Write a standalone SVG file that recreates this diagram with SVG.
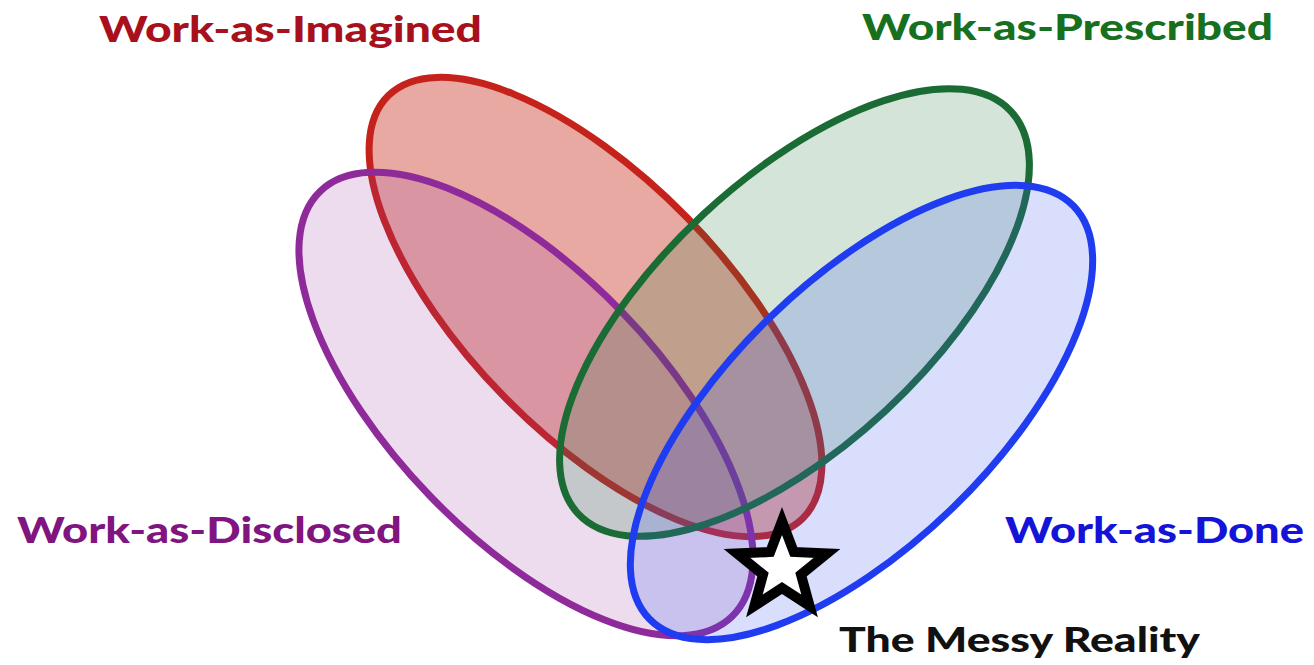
<svg xmlns="http://www.w3.org/2000/svg" width="1314" height="665" viewBox="0 0 1314 665">
<style>
.lbl{font-family:Lato,"Open Sans","Liberation Sans",sans-serif;font-weight:900;font-size:36px}
.ell{stroke-width:7}
</style>
<rect width="1314" height="665" fill="#ffffff"/>
<g id="work-as-imagined">
<ellipse class="ell" cx="595.5" cy="307" rx="296" ry="128" transform="rotate(45.6 595.5 307)" fill="#c83c28" fill-opacity="0.44" stroke="#c4221a"/>
<text class="lbl" x="99" y="42" fill="#a8101c" textLength="383" lengthAdjust="spacingAndGlyphs">Work-as-Imagined</text>
</g>
<g id="work-as-disclosed">
<ellipse class="ell" cx="526" cy="404" rx="296" ry="133" transform="rotate(45.9 526 404)" fill="#9a3ca0" fill-opacity="0.18" stroke="#8e2a9a"/>
<text class="lbl" x="17" y="543" fill="#80157f" textLength="385" lengthAdjust="spacingAndGlyphs">Work-as-Disclosed</text>
</g>
<g id="work-as-prescribed">
<ellipse class="ell" cx="794.5" cy="312.5" rx="295.5" ry="134" transform="rotate(-42.9 794.5 312.5)" fill="#28783c" fill-opacity="0.2" stroke="#1b6b35"/>
<text class="lbl" x="862" y="40" fill="#16701e" textLength="411" lengthAdjust="spacingAndGlyphs">Work-as-Prescribed</text>
</g>
<g id="work-as-done">
<ellipse class="ell" cx="861.5" cy="412.5" rx="296" ry="132" transform="rotate(-44.25 861.5 412.5)" fill="#3c5af0" fill-opacity="0.2" stroke="#1f3cf0"/>
<text class="lbl" x="1005" y="543" fill="#1414d8" textLength="299" lengthAdjust="spacingAndGlyphs">Work-as-Done</text>
</g>
<g id="messy-reality">
<polygon points="782,521 793.8,552 827,553.5 801,574.5 809.6,606 782,588 754.4,606 763,574.5 737,553.5 770.2,552" fill="#ffffff" stroke="#000000" stroke-width="10" stroke-linejoin="miter" stroke-miterlimit="6"/>
<text class="lbl" x="839" y="652" fill="#111111" style="font-size:34px" textLength="361" lengthAdjust="spacingAndGlyphs">The Messy Reality</text>
</g>
<g id="connectors"/>
</svg>
